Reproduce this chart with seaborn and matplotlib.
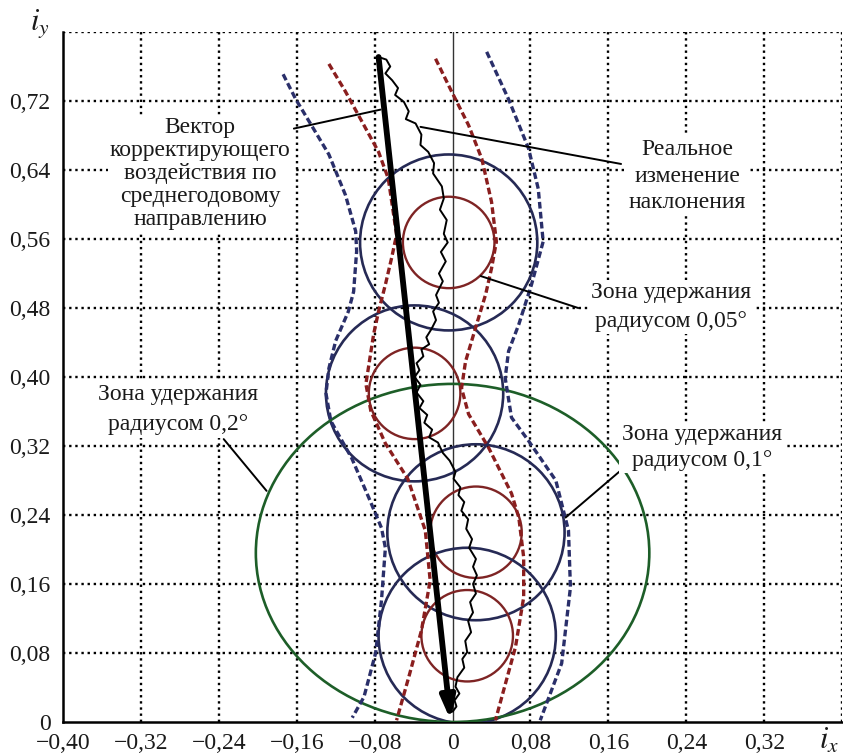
import matplotlib
matplotlib.use("Agg")
import matplotlib.pyplot as plt
import seaborn as sns
import pandas as pd
from matplotlib.patches import Ellipse

# ---------------- data ----------------
x_ticks = [-0.40, -0.32, -0.24, -0.16, -0.08, 0.0, 0.08, 0.16, 0.24, 0.32]
x_tick_labels = ["−0,40", "−0,32", "−0,24", "−0,16", "−0,08", "0", "0,08", "0,16", "0,24", "0,32"]
y_ticks = [0.0, 0.08, 0.16, 0.24, 0.32, 0.40, 0.48, 0.56, 0.64, 0.72]
y_tick_labels = ["0", "0,08", "0,16", "0,24", "0,32", "0,40", "0,48", "0,56", "0,64", "0,72"]
grid_x = [-0.32, -0.24, -0.16, -0.08, 0.08, 0.16, 0.24, 0.32, 0.40]
grid_y = [0.08, 0.16, 0.24, 0.32, 0.40, 0.48, 0.56, 0.64, 0.72, 0.80]

# zone centres (holding zones along the trajectory)
zone_cx = [-0.004, -0.039, 0.024, 0.015]
zone_cy = [0.556, 0.381, 0.220, 0.100]
# radius 0.1 deg zones (half-width, half-height in axis units)
zone01_rx, zone01_ry = 0.091, 0.102
# radius 0.05 deg zones
zone005_rx, zone005_ry = 0.047, 0.053
# radius 0.2 deg zone
big_cx, big_cy = 0.0, 0.196
big_rx, big_ry = 0.202, 0.196

# envelope of 0.1 deg zone (navy dashed)
outer_left_x = [-0.174, -0.161, -0.145, -0.127, -0.110, -0.0995, -0.0985, -0.1016, -0.107, -0.120, -0.127,
                -0.130, -0.125, -0.1036, -0.086, -0.073, -0.069, -0.073, -0.079, -0.091, -0.103]
outer_left_y = [0.751, 0.722, 0.692, 0.658, 0.611, 0.569, 0.546, 0.499, 0.476, 0.442, 0.410,
                0.381, 0.349, 0.306, 0.260, 0.225, 0.202, 0.141, 0.080, 0.029, 0.005]
outer_right_x = [0.035, 0.0575, 0.078, 0.088, 0.093, 0.081, 0.068, 0.0575, 0.054, 0.0605, 0.078,
                 0.106, 0.119, 0.121, 0.112, 0.090]
outer_right_y = [0.777, 0.722, 0.665, 0.618, 0.557, 0.507, 0.461, 0.430, 0.399, 0.353, 0.326,
                 0.280, 0.222, 0.156, 0.068, 0.002]
# envelope of 0.05 deg zone (red dashed)
inner_left_x = [-0.127, -0.110, -0.093, -0.076, -0.066, -0.0575, -0.0626, -0.0688, -0.076, -0.081, -0.089,
                -0.084, -0.069, -0.046, -0.028, -0.023, -0.032, -0.045, -0.0575]
inner_left_y = [0.763, 0.731, 0.696, 0.661, 0.630, 0.565, 0.538, 0.508, 0.476, 0.450, 0.392,
                0.361, 0.323, 0.282, 0.222, 0.164, 0.106, 0.052, 0.002]
inner_right_x = [-0.0175, -0.001, 0.0164, 0.030, 0.040, 0.045, 0.040, 0.034, 0.0236, 0.0133, 0.0092,
                 0.0164, 0.037, 0.0605, 0.068, 0.073, 0.073, 0.0646, 0.044]
inner_right_y = [0.769, 0.731, 0.692, 0.653, 0.603, 0.557, 0.526, 0.496, 0.457, 0.418, 0.387,
                 0.357, 0.318, 0.265, 0.237, 0.191, 0.1445, 0.087, 0.002]

# real inclination change (wiggly path)
real_x = [-0.076, -0.068, -0.064, -0.069, -0.062, -0.056, -0.059, -0.050, -0.045, -0.048, -0.038, -0.032,
          -0.033, -0.025, -0.019, -0.020, -0.011, -0.009, -0.013, -0.006, -0.009, -0.005, -0.012, -0.007,
          -0.014, -0.010, -0.017, -0.014, -0.020, -0.017, -0.022, -0.027, -0.024, -0.032, -0.030, -0.037,
          -0.034, -0.039, -0.033, -0.037, -0.030, -0.034, -0.026, -0.029, -0.021, -0.024, -0.015, -0.010,
          -0.003, 0.003, 0.001, 0.008, 0.006, 0.012, 0.009, 0.016, 0.014, 0.020, 0.017, 0.024, 0.021,
          0.025, 0.021, 0.024, 0.018, 0.021, 0.016, 0.019, 0.013, 0.015, 0.010, 0.012, 0.005, 0.003,
          0.007, 0.002, 0.004, 0.000]
real_y = [0.771, 0.768, 0.760, 0.752, 0.744, 0.735, 0.727, 0.719, 0.708, 0.699, 0.694, 0.681,
          0.669, 0.661, 0.648, 0.636, 0.621, 0.607, 0.594, 0.582, 0.566, 0.556, 0.545, 0.534,
          0.520, 0.511, 0.495, 0.486, 0.476, 0.466, 0.455, 0.446, 0.438, 0.432, 0.424, 0.416,
          0.408, 0.400, 0.391, 0.382, 0.372, 0.364, 0.356, 0.347, 0.339, 0.330, 0.324, 0.312,
          0.303, 0.290, 0.282, 0.272, 0.263, 0.255, 0.245, 0.235, 0.224, 0.212, 0.202, 0.189, 0.180,
          0.170, 0.160, 0.149, 0.139, 0.127, 0.117, 0.104, 0.094, 0.081, 0.073, 0.063, 0.052, 0.041,
          0.033, 0.025, 0.018, 0.012]

# corrective vector (mean annual direction)
vector_start = (-0.076, 0.771)
vector_end = (-0.002, 0.002)

# annotations: text, text position, leader start, leader end
ann_texts = ["Вектор\nкорректирующего\nвоздействия по\nсреднегодовому\nнаправлению",
             "Реальное\nизменение\nнаклонения",
             "Зона удержания\nрадиусом 0,05°",
             "Зона удержания\nрадиусом 0,1°",
             "Зона удержания\nрадиусом 0,2°"]
ann_pos = [(-0.259, 0.636), (0.241, 0.633), (0.224, 0.481), (0.256, 0.318), (-0.282, 0.362)]
ann_spacing = [1.12, 1.36, 1.5, 1.29, 1.57]
lead_from = [(-0.163, 0.688), (0.173, 0.647), (0.129, 0.480), (0.172, 0.291), (-0.235, 0.328)]
lead_to = [(-0.074, 0.710), (-0.033, 0.690), (0.029, 0.517), (0.116, 0.237), (-0.191, 0.268)]

# ---------------- style ----------------
sns.set_theme(style="white")
plt.rcParams['font.family'] = ['Liberation Serif', 'DejaVu Serif']
plt.rcParams['mathtext.fontset'] = 'stix'

NAVY = "#262a55"
NAVY_D = "#2a2f6a"
RED = "#7e2424"
RED_D = "#8a1e1e"
GREEN = "#1d5e28"

fig = plt.figure(figsize=(8.43, 7.56), dpi=100)
ax = fig.add_axes([63 / 843, 1 - 722 / 756, 1 - 63 / 843 - 0.001, (722 - 32) / 756])
ax.set_facecolor("white")
ax.set_xlim(-0.40, 0.40)
ax.set_ylim(0.0, 0.80)

# dotted grid
for gx in grid_x:
    ax.axvline(gx, color="black", lw=1.7, linestyle=(0, (1, 1.6)), zorder=1)
for gy in grid_y:
    ax.axhline(gy, color="black", lw=1.7, linestyle=(0, (1, 1.6)), zorder=1)
ax.axvline(0.0, color="#333333", lw=1.0, zorder=1.5)

# holding zones
for cx, cy in zip(zone_cx, zone_cy):
    ax.add_patch(Ellipse((cx, cy), 2 * zone01_rx, 2 * zone01_ry, fill=False, ec=NAVY, lw=1.9, zorder=3))
    ax.add_patch(Ellipse((cx, cy), 2 * zone005_rx, 2 * zone005_ry, fill=False, ec=RED, lw=1.7, zorder=3))
ax.add_patch(Ellipse((big_cx, big_cy), 2 * big_rx, 2 * big_ry, fill=False, ec=GREEN, lw=1.9, zorder=3))

# envelopes
dash = (0, (2.0, 1.0))
for xs, ys, col in [(outer_left_x, outer_left_y, NAVY_D), (outer_right_x, outer_right_y, NAVY_D),
                    (inner_left_x, inner_left_y, RED_D), (inner_right_x, inner_right_y, RED_D)]:
    df = pd.DataFrame({"x": xs, "y": ys})
    sns.lineplot(data=df, x="x", y="y", sort=False, estimator=None, ax=ax, color=col,
                 lw=2.4, linestyle=dash, zorder=4)

# real change
df_real = pd.DataFrame({"x": real_x, "y": real_y})
sns.lineplot(data=df_real, x="x", y="y", sort=False, estimator=None, ax=ax, color="black",
             lw=1.4, zorder=5)

# corrective vector
ax.annotate("", xy=vector_end, xytext=vector_start,
            arrowprops=dict(arrowstyle="-|>,head_length=1.1,head_width=0.35", lw=4.2,
                            color="black", shrinkA=0, shrinkB=0), zorder=6)

# annotations
for txt, pos, sp, a, b in zip(ann_texts, ann_pos, ann_spacing, lead_from, lead_to):
    ax.plot([a[0], b[0]], [a[1], b[1]], color="black", lw=1.4, zorder=6)
    ax.text(pos[0], pos[1], txt, ha="center", va="center", fontsize=17, linespacing=sp,
            color="#1a1a1a", zorder=7,
            bbox=dict(boxstyle="square,pad=0.1", fc="white", ec="none"))

# axes decoration
ax.set_xticks(x_ticks)
ax.set_xticklabels(x_tick_labels)
ax.set_yticks(y_ticks)
ax.set_yticklabels(y_tick_labels)
ax.tick_params(axis="both", length=0, labelsize=17, colors="#1a1a1a")
ax.tick_params(axis="x", pad=8)
ax.tick_params(axis="y", pad=9)
ax.set_xlabel("")
ax.set_ylabel("")
for s in ["top", "right"]:
    ax.spines[s].set_visible(False)
for s in ["left", "bottom"]:
    ax.spines[s].set_color("black")
    ax.spines[s].set_linewidth(1.8)

fig.text(40 / 843, 1 - 24 / 756, r"$i_y$", fontsize=22, ha="center", va="center", color="#1a1a1a")
fig.text(829 / 843, 1 - 741 / 756, r"$i_x$", fontsize=22, ha="center", va="center", color="#1a1a1a")

fig.savefig("out.png", dpi=100)
